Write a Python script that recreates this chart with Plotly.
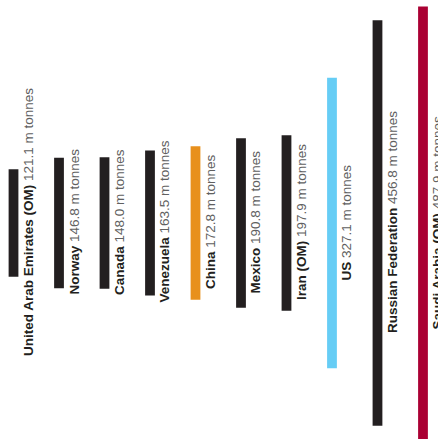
import plotly.graph_objects as go

# Crude oil production, million tonnes
countries = [
    "United Arab Emirates (OM)", "Norway", "Canada", "Venezuela", "China",
    "Mexico", "Iran (OM)", "US", "Russian Federation", "Saudi Arabia (OM)",
]
output_mt = [121.1, 146.8, 148.0, 163.5, 172.8, 190.8, 197.9, 327.1, 456.8, 487.9]
bar_colors = [
    "#231f20", "#231f20", "#231f20", "#231f20", "#e8901c",
    "#231f20", "#231f20", "#66cdf5", "#231f20", "#aa0033",
]

positions = list(range(len(countries)))

fig = go.Figure(
    go.Bar(
        x=positions,
        y=output_mt,
        base=[-v / 2 for v in output_mt],
        marker=dict(color=bar_colors, line=dict(width=0)),
        width=0.215,
        hoverinfo="skip",
    )
)

for i, (name, v) in enumerate(zip(countries, output_mt)):
    fig.add_annotation(
        x=i,
        y=0,
        xref="x",
        yref="y",
        text=f"<b>{name}</b> <span style='color:#606060'>{v:.1f} m tonnes</span>",
        textangle=-90,
        showarrow=False,
        xanchor="left",
        yanchor="middle",
        xshift=5,
        yshift=1,
        font=dict(family="Liberation Sans, Arial, sans-serif", size=13.5, color="#231f20"),
    )

fig.update_layout(
    width=438,
    height=439,
    margin=dict(l=0, r=0, t=0, b=0),
    paper_bgcolor="white",
    plot_bgcolor="white",
    showlegend=False,
    xaxis=dict(range=[-0.297, 9.33], visible=False, fixedrange=True),
    yaxis=dict(range=[-243.4, 251.3], visible=False, fixedrange=True),
)

fig.write_html("out.html", config={"displayModeBar": False})
